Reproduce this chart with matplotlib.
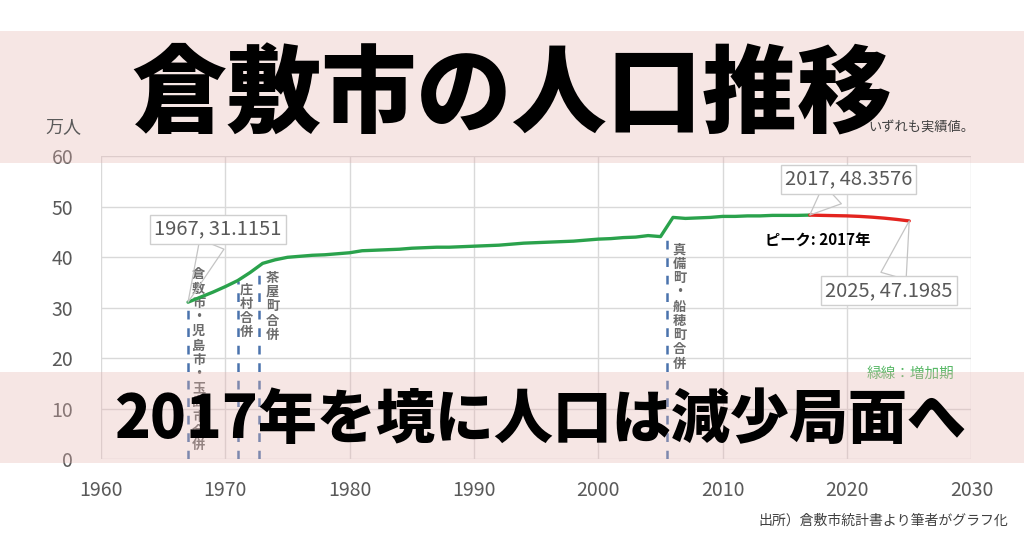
import numpy as np
import matplotlib
matplotlib.use("Agg")
from matplotlib import pyplot as plt
from matplotlib.patches import Rectangle

plt.rcParams['font.family'] = ['Noto Sans CJK JP', 'DejaVu Sans']

# population of Kurashiki city (10k persons)
years_up = [1967, 1968, 1969, 1970, 1971, 1972, 1973, 1974, 1975, 1976, 1977, 1978,
            1979, 1980, 1981, 1982, 1983, 1984, 1985, 1986, 1987, 1988, 1989, 1990,
            1991, 1992, 1993, 1994, 1995, 1996, 1997, 1998, 1999, 2000, 2001, 2002,
            2003, 2004, 2005, 2006, 2007, 2008, 2009, 2010, 2011, 2012, 2013, 2014,
            2015, 2016, 2017]
pop_up = [31.1151, 32.1, 33.1, 34.2, 35.4, 37.0, 38.8, 39.5, 40.0, 40.2, 40.4, 40.5,
          40.7, 40.9, 41.3, 41.4, 41.5, 41.6, 41.8, 41.9, 42.0, 42.0, 42.1, 42.2,
          42.3, 42.4, 42.6, 42.8, 42.9, 43.0, 43.1, 43.2, 43.4, 43.6, 43.7, 43.9,
          44.0, 44.3, 44.1, 47.9, 47.7, 47.8, 47.9, 48.1, 48.1, 48.2, 48.2, 48.3,
          48.3, 48.3, 48.3576]
years_down = [2017, 2018, 2019, 2020, 2021, 2022, 2023, 2024, 2025]
pop_down = [48.3576, 48.3, 48.25, 48.2, 48.1, 47.95, 47.75, 47.5, 47.1985]

# mergers: year, population at that time, label
merge_years = [1967, 1971, 1972.7, 2005.5]
merge_pop = [31.1151, 35.3, 38.0, 44.1]
merge_labels = ['倉敷市・児島市・玉島市合併', '庄村合併', '茶屋町合併', '真備町・船穂町合併']
merge_label_top = [38.0, 35.0, 37.3, 42.9]
merge_label_dx = [4, 2, 7, 6]

x_ticks = [1960, 1970, 1980, 1990, 2000, 2010, 2020, 2030]
y_ticks = [0, 10, 20, 30, 40, 50, 60]

GRAY = '#595959'
GREEN = '#2aa24c'
RED = '#e3241f'
BLUE = '#4a73ad'

fig = plt.figure(figsize=(10.24, 5.36), dpi=100)
W, H = 1024, 536
ax = fig.add_axes([101 / W, 1 - 459.3 / H, (971.4 - 101) / W, (459.3 - 156.3) / H])

ax.set_xlim(1960, 2030)
ax.set_ylim(0, 60)
ax.set_xticks(x_ticks)
ax.set_yticks(y_ticks)
ax.grid(True, color='#d9d9d9', lw=1)
ax.set_axisbelow(True)
for s in ax.spines.values():
    s.set_visible(False)
ax.tick_params(length=0, labelsize=14, labelcolor=GRAY)
ax.tick_params(axis='y', pad=20)
ax.tick_params(axis='x', pad=15)

ax.vlines(merge_years, 0, merge_pop, colors=BLUE, lw=1.8, linestyles=(0, (3.5, 3.5)), zorder=2)
for yr, top, lab, dx in zip(merge_years, merge_label_top, merge_labels, merge_label_dx):
    ax.annotate('\n'.join(lab), xy=(yr, top), xytext=(dx, 0), textcoords='offset pixels',
                ha='left', va='top', fontsize=9.5, fontweight='bold', color='#6b6b6b',
                linespacing=1.02, zorder=2)

ax.plot(years_up, pop_up, color=GREEN, lw=2.4, zorder=3, solid_capstyle='round')
ax.plot(years_down, pop_down, color=RED, lw=2.4, zorder=3, solid_capstyle='round')

def callout(x, y, dx, dy):
    ax.annotate(f'{x}, {y}', xy=(x, y), xytext=(dx, dy), textcoords='offset pixels',
                ha='center', va='center', fontsize=14.5, color=GRAY, zorder=5,
                bbox=dict(boxstyle='square,pad=0.2', fc='white', ec='#cfcfcf', lw=1),
                arrowprops=dict(arrowstyle='wedge,tail_width=1.3', fc='none', ec='#c4c4c4',
                                lw=0.9, shrinkA=0, shrinkB=0))

callout(years_up[0], pop_up[0], 30, 73)
callout(years_up[-1], pop_up[-1], 39, 36)
callout(years_down[-1], pop_down[-1], -20, -70)

ax.annotate(f'ピーク: {years_up[-1]}年', xy=(years_up[-1], pop_up[-1]), xytext=(8, -25),
            textcoords='offset pixels', ha='center', va='center', fontsize=11,
            fontweight='bold', color='black', zorder=5)
ax.text(2028.6, 17.0, '緑線：増加期', ha='right', va='center', fontsize=10.5,
        color='#58b866', zorder=5)

# pink banners over the chart
pink = '#e6b4af'
fig.patches.append(Rectangle((0, 1 - 163 / H), 1, 132 / H, transform=fig.transFigure,
                             fc=pink, alpha=0.33, ec='none', zorder=1))
fig.patches.append(Rectangle((0, 1 - 463 / H), 1, 91 / H, transform=fig.transFigure,
                             fc=pink, alpha=0.33, ec='none', zorder=1))

fig.text(512 / W, 1 - 97 / H, '倉敷市の人口推移', ha='center', va='center', fontsize=68.5,
         fontweight='heavy', color='black', zorder=4)
fig.text(540 / W, 1 - 420 / H, '2017年を境に人口は減少局面へ', ha='center', va='center',
         fontsize=42.5, fontweight='heavy', color='black', zorder=4)
fig.text(921 / W, 1 - 127 / H, 'いずれも実績値。', ha='center', va='center', fontsize=9.5,
         color='#404040', zorder=4)
fig.text(63 / W, 1 - 127 / H, '万人', ha='center', va='center', fontsize=13,
         color=GRAY, zorder=4)
fig.text(1008 / W, 1 - 521 / H, '出所）倉敷市統計書より筆者がグラフ化', ha='right',
         va='center', fontsize=10, color='#404040', zorder=4)

fig.savefig('out.png', dpi=100)
